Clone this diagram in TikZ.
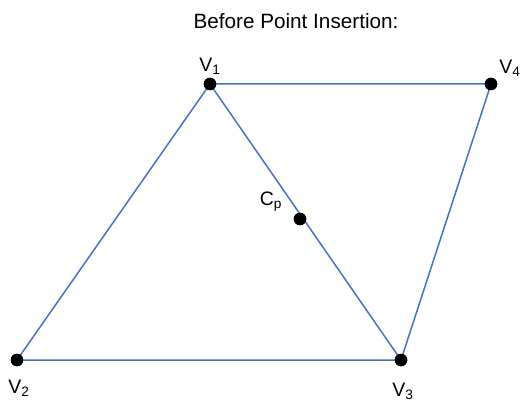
\documentclass[tikz,border=0pt]{standalone}
\usepackage{fontspec}
\setmainfont{Liberation Sans}
\definecolor{edgeblue}{HTML}{4472C4}
\begin{document}
\begin{tikzpicture}[x=1pt,y=-1pt,
  vert/.style={circle,fill=black,inner sep=0pt,minimum size=12.5pt},
  edge/.style={draw=edgeblue,line width=1.5pt},
  lbl/.style={inner sep=0pt,font=\fontsize{19.5}{22}\selectfont}]
\useasboundingbox (0,0) rectangle (522,406);
\node[lbl,font=\fontsize{20.7}{24}\selectfont] (title) at (296,21) {Before Point Insertion:};
\node[vert] (v1) at (210,84) {};
\node[vert] (v4) at (491,84) {};
\node[vert] (cp) at (300,219) {};
\node[vert] (v2) at (17,360) {};
\node[vert] (v3) at (401,360) {};
\draw[edge] (v1.center) -- (v4.center) -- (v3.center) -- (v2.center) -- (v1.center) -- (v3.center);
\node[vert] at (v1) {};
\node[vert] at (v4) {};
\node[vert] at (cp) {};
\node[vert] at (v2) {};
\node[vert] at (v3) {};
\node[lbl] (l1) at (210,66) {V\textsubscript{1}};
\node[lbl] (l4) at (510,68) {V\textsubscript{4}};
\node[lbl] (lc) at (271,202) {C\textsubscript{p}};
\node[lbl] (l2) at (19,388) {V\textsubscript{2}};
\node[lbl] (l3) at (403,391) {V\textsubscript{3}};
\end{tikzpicture}
\end{document}
